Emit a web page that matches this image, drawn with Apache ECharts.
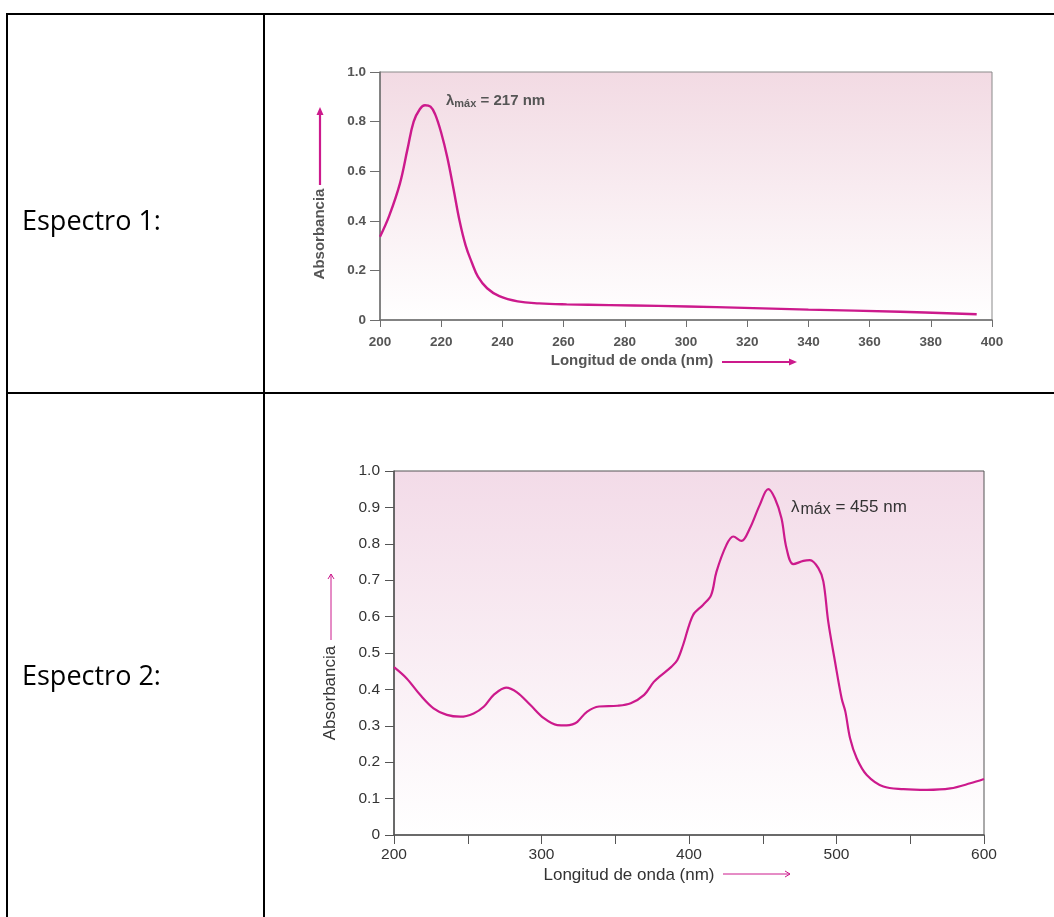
<!DOCTYPE html>
<html>
<head>
<meta charset="utf-8">
<script src="https://cdn.jsdelivr.net/npm/echarts@6/dist/echarts.min.js"></script>
<style>
html,body{margin:0;padding:0;background:#fff;}
#c{width:1054px;height:917px;}
</style>
</head>
<body>
<div id="c"></div>
<script>
// ---- Data ----
const rowLabels = ['Espectro 1:', 'Espectro 2:'];
const peakLabels = ['217 nm', '455 nm'];

const w1 = [200, 203, 206.5, 209, 211, 213, 214.7, 216.5, 218, 220, 222, 224, 226, 228, 230, 232, 235, 239, 245, 252, 261, 275, 291, 310, 340, 370, 395];
const a1 = [0.336, 0.42, 0.55, 0.69, 0.80, 0.85, 0.866, 0.86, 0.83, 0.755, 0.655, 0.53, 0.40, 0.30, 0.232, 0.175, 0.128, 0.096, 0.075, 0.067, 0.063, 0.060, 0.057, 0.052, 0.042, 0.033, 0.023];

const w2 = [200, 208.6, 217.7, 226.8, 235.8, 245, 254, 261, 267.6, 276, 283.4, 292.5, 301.6, 310.7, 317, 321, 324.3, 331, 339, 351.5, 360.5, 369.6, 376, 380, 388, 392, 396, 402.7, 409.5, 415, 418.6, 425.4, 430, 435.6, 441.2, 448, 453.7, 458.2, 462.7, 466.1, 470.7, 477.5, 482, 487.7, 491.1, 494.4, 499, 503.5, 506, 509.2, 513.7, 520.5, 531.8, 545.4, 561.3, 577.1, 590.7, 600];
const a2 = [0.461, 0.430, 0.385, 0.348, 0.330, 0.325, 0.334, 0.353, 0.385, 0.405, 0.392, 0.357, 0.321, 0.302, 0.301, 0.304, 0.311, 0.339, 0.353, 0.355, 0.362, 0.385, 0.420, 0.435, 0.462, 0.48, 0.522, 0.604, 0.632, 0.659, 0.723, 0.797, 0.820, 0.808, 0.842, 0.907, 0.950, 0.925, 0.870, 0.788, 0.744, 0.753, 0.755, 0.733, 0.696, 0.586, 0.476, 0.375, 0.339, 0.266, 0.211, 0.165, 0.133, 0.126, 0.124, 0.128, 0.142, 0.154];

const xLabelName = 'Longitud de onda (nm)';
const yLabelName = 'Absorbancia';

// ---- Styling ----
const MAG = '#cc1a8c';
const grad = {type:'linear', x:0, y:0, x2:0, y2:1, colorStops:[{offset:0, color:'#f2dae3'},{offset:1, color:'#ffffff'}]};
const grad2 = {type:'linear', x:0, y:0, x2:0, y2:1, colorStops:[{offset:0, color:'#f3dbe8'},{offset:1, color:'#ffffff'}]};
const FONT = 'Liberation Sans, Arial, sans-serif';

const chart = echarts.init(document.getElementById('c'), null, {renderer:'canvas'});

function fmtY(v){ return v === 0 ? '0' : v.toFixed(1); }

const option = {
  backgroundColor: '#ffffff',
  animation: false,
  grid: [
    {left:380, top:72, width:612, height:248, show:true, backgroundColor:grad, borderColor:'#8a8a8a', borderWidth:1},
    {left:394, top:471, width:590, height:364, show:true, backgroundColor:grad2, borderColor:'#555', borderWidth:1}
  ],
  xAxis: [
    {gridIndex:0, type:'value', min:200, max:400, interval:20,
     axisLine:{lineStyle:{color:'#6e6e6e', width:1.5}}, axisTick:{length:7, lineStyle:{color:'#6e6e6e'}},
     axisLabel:{color:'#555', fontSize:13.5, fontWeight:'bold', fontFamily:FONT, margin:15},
     splitLine:{show:false}},
    {gridIndex:1, type:'value', min:200, max:600, interval:50,
     axisLine:{lineStyle:{color:'#555', width:1.5}}, axisTick:{length:9, lineStyle:{color:'#555'}},
     axisLabel:{color:'#333', fontSize:15.5, fontFamily:FONT, margin:12, formatter:function(v){return v%100===0 ? String(v) : '';}},
     splitLine:{show:false}}
  ],
  yAxis: [
    {gridIndex:0, type:'value', min:0, max:1, interval:0.2,
     axisLine:{show:true, lineStyle:{color:'#6e6e6e', width:1.5}}, axisTick:{show:true, length:10, lineStyle:{color:'#6e6e6e'}},
     axisLabel:{color:'#555', fontSize:13.5, fontWeight:'bold', fontFamily:FONT, margin:14, formatter:fmtY},
     splitLine:{show:false}},
    {gridIndex:1, type:'value', min:0, max:1, interval:0.1,
     axisLine:{show:true, lineStyle:{color:'#555', width:1.5}}, axisTick:{show:true, length:9, lineStyle:{color:'#555'}},
     axisLabel:{color:'#333', fontSize:15.5, fontFamily:FONT, margin:14, formatter:fmtY},
     splitLine:{show:false}}
  ],
  series: [
    {type:'line', xAxisIndex:0, yAxisIndex:0, data:w1.map((w,i)=>[w,a1[i]]), smooth:0.4, showSymbol:false,
     lineStyle:{color:MAG, width:2.4}},
    {type:'line', xAxisIndex:1, yAxisIndex:1, data:w2.map((w,i)=>[w,a2[i]]), smooth:0.35, showSymbol:false,
     lineStyle:{color:MAG, width:2.2}}
  ],
  graphic: [
    // table borders
    {type:'line', shape:{x1:6, y1:14, x2:1054, y2:14}, style:{stroke:'#000', lineWidth:2}},
    {type:'line', shape:{x1:7, y1:13, x2:7, y2:917}, style:{stroke:'#000', lineWidth:2}},
    {type:'line', shape:{x1:264, y1:13, x2:264, y2:917}, style:{stroke:'#000', lineWidth:2}},
    {type:'line', shape:{x1:6, y1:393, x2:1054, y2:393}, style:{stroke:'#000', lineWidth:2}},
    // row labels
    {type:'text', x:22, y:222, style:{text:rowLabels[0], font:'27px "Open Sans", sans-serif', fill:'#000', verticalAlign:'middle'}},
    {type:'text', x:22, y:677, style:{text:rowLabels[1], font:'27px "Open Sans", sans-serif', fill:'#000', verticalAlign:'middle'}},
    // chart 1 annotations
    {type:'text', x:446, y:93, style:{text:'{l|λ}{s|máx}{n| = ' + peakLabels[0] + '}',
      rich:{l:{fontSize:15, fontWeight:'bold', fill:'#555', fontFamily:FONT}, s:{fontSize:11, fontWeight:'bold', fill:'#555', fontFamily:FONT, padding:[5,0,0,0]}, n:{fontSize:15, fontWeight:'bold', fill:'#555', fontFamily:FONT}}}},
    {type:'text', x:632, y:361, style:{text:xLabelName, font:'bold 15px ' + FONT, fill:'#555', align:'center', verticalAlign:'middle'}},
    {type:'line', shape:{x1:722, y1:362, x2:791, y2:362}, style:{stroke:MAG, lineWidth:2}},
    {type:'polygon', shape:{points:[[797,362],[789,358.5],[789,365.5]]}, style:{fill:MAG}},
    {type:'text', x:320, y:234, rotation:Math.PI/2, style:{text:yLabelName, font:'bold 15px ' + FONT, fill:'#555', align:'center', verticalAlign:'middle'}},
    {type:'line', shape:{x1:320, y1:185, x2:320, y2:114}, style:{stroke:MAG, lineWidth:2.2}},
    {type:'polygon', shape:{points:[[320,107],[316.5,115],[323.5,115]]}, style:{fill:MAG}},
    // chart 2 annotations
    {type:'text', x:791, y:496, style:{text:'{l|λ}{s|máx}{n| = ' + peakLabels[1] + '}',
      rich:{l:{fontSize:17, fill:'#333', fontFamily:FONT}, s:{fontSize:16, fill:'#333', fontFamily:FONT, padding:[6,0,0,1]}, n:{fontSize:17, fill:'#333', fontFamily:FONT}}}},
    {type:'text', x:629, y:875, style:{text:xLabelName, font:'17px ' + FONT, fill:'#333', align:'center', verticalAlign:'middle'}},
    {type:'line', shape:{x1:723, y1:874, x2:790, y2:874}, style:{stroke:MAG, lineWidth:1}},
    {type:'polyline', shape:{points:[[785,871],[790,874],[785,877]]}, style:{stroke:MAG, lineWidth:1, fill:null}},
    {type:'text', x:330, y:693, rotation:Math.PI/2, style:{text:yLabelName, font:'17px ' + FONT, fill:'#333', align:'center', verticalAlign:'middle'}},
    {type:'line', shape:{x1:331, y1:640, x2:331, y2:574}, style:{stroke:MAG, lineWidth:1}},
    {type:'polyline', shape:{points:[[328,579],[331,574],[334,579]]}, style:{stroke:MAG, lineWidth:1, fill:null}}
  ]
};
chart.setOption(option);
</script>
</body>
</html>
